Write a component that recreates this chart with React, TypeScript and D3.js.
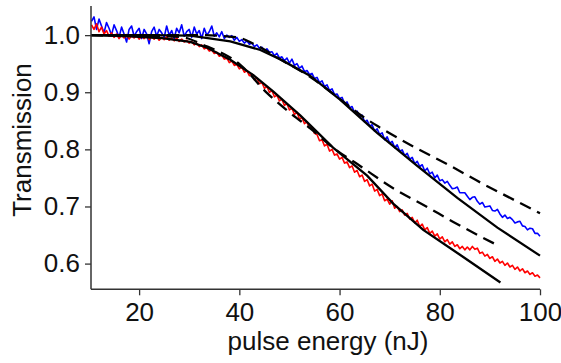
import React, { useEffect, useRef } from 'react';
import * as d3 from 'd3';

// measured traces are sampled every 0.5 nJ
const energy = d3.range(10.5, 100.01, 0.5);

const blueT = [
  1.024, 1.032, 1.010, 1.028, 1.016, 1.004, 1.022, 1.012, 1.000, 1.018,
  1.008, 0.996, 1.014, 1.002, 0.988, 1.010, 1.016, 0.998, 1.006, 1.012,
  0.994, 1.010, 1.002, 0.985, 1.006, 1.014, 0.998, 1.010, 1.004, 0.996,
  1.016, 1.000, 1.008, 0.994, 1.012, 1.004, 1.018, 0.998, 1.006, 1.010,
  0.996, 1.014, 1.002, 1.008, 0.994, 1.012, 1.000, 1.006, 1.016, 0.998,
  1.004, 0.997, 1.006, 0.994, 1.000, 0.996, 0.999, 0.991, 0.996, 0.989,
  0.992, 0.986, 0.990, 0.984, 0.986, 0.980, 0.983, 0.977, 0.979, 0.973,
  0.976, 0.970, 0.971, 0.964, 0.968, 0.960, 0.962, 0.955, 0.960, 0.951,
  0.958, 0.947, 0.950, 0.942, 0.946, 0.936, 0.938, 0.931, 0.933, 0.924,
  0.926, 0.917, 0.920, 0.910, 0.913, 0.903, 0.906, 0.896, 0.897, 0.889,
  0.891, 0.880, 0.883, 0.873, 0.875, 0.864, 0.867, 0.857, 0.860, 0.848,
  0.851, 0.841, 0.843, 0.832, 0.836, 0.826, 0.829, 0.817, 0.822, 0.811,
  0.814, 0.803, 0.808, 0.797, 0.799, 0.789, 0.793, 0.783, 0.786, 0.775,
  0.779, 0.770, 0.773, 0.762, 0.767, 0.757, 0.760, 0.750, 0.755, 0.745,
  0.747, 0.741, 0.744, 0.737, 0.731, 0.732, 0.734, 0.724, 0.724, 0.724,
  0.718, 0.712, 0.716, 0.717, 0.709, 0.704, 0.707, 0.699, 0.700, 0.701,
  0.693, 0.692, 0.695, 0.687, 0.681, 0.685, 0.679, 0.681, 0.677, 0.671,
  0.673, 0.674, 0.666, 0.665, 0.659, 0.662, 0.661, 0.653, 0.653, 0.648,
];

const redT = [
  1.018, 1.010, 1.020, 1.006, 1.014, 1.002, 1.008, 0.998, 1.004, 0.996,
  1.002, 0.994, 1.000, 0.995, 1.001, 0.993, 0.999, 0.995, 1.000, 0.993,
  0.998, 0.994, 1.000, 0.992, 0.997, 0.993, 0.998, 0.991, 0.996, 0.992,
  0.997, 0.991, 0.995, 0.990, 0.995, 0.989, 0.993, 0.988, 0.991, 0.986,
  0.989, 0.983, 0.986, 0.980, 0.983, 0.976, 0.978, 0.972, 0.974, 0.968,
  0.970, 0.963, 0.965, 0.958, 0.960, 0.952, 0.955, 0.947, 0.949, 0.941,
  0.944, 0.935, 0.938, 0.929, 0.932, 0.922, 0.925, 0.915, 0.917, 0.907,
  0.910, 0.900, 0.903, 0.892, 0.895, 0.885, 0.888, 0.877, 0.880, 0.869,
  0.872, 0.861, 0.865, 0.853, 0.856, 0.845, 0.848, 0.837, 0.839, 0.828,
  0.826, 0.815, 0.817, 0.806, 0.809, 0.797, 0.800, 0.790, 0.792, 0.783,
  0.786, 0.776, 0.778, 0.768, 0.771, 0.760, 0.763, 0.752, 0.755, 0.744,
  0.747, 0.736, 0.739, 0.727, 0.730, 0.719, 0.722, 0.710, 0.713, 0.704,
  0.710, 0.697, 0.700, 0.691, 0.694, 0.685, 0.688, 0.678, 0.681, 0.671,
  0.676, 0.665, 0.669, 0.659, 0.663, 0.653, 0.657, 0.648, 0.652, 0.643,
  0.647, 0.638, 0.642, 0.634, 0.638, 0.630, 0.633, 0.626, 0.630, 0.624,
  0.629, 0.624, 0.630, 0.625, 0.627, 0.618, 0.620, 0.613, 0.616, 0.609,
  0.612, 0.604, 0.608, 0.601, 0.604, 0.597, 0.601, 0.594, 0.597, 0.590,
  0.594, 0.587, 0.591, 0.584, 0.587, 0.581, 0.584, 0.578, 0.580, 0.575,
];

// model curves [energy, transmission]
const fitBlueSolid = [
  [10.4, 1.0], [22.2, 1.0], [30.2, 0.999], [38.2, 0.989], [44.2, 0.974],
  [48.1, 0.958], [54.1, 0.929], [60.1, 0.887], [67.5, 0.829], [75.5, 0.771],
  [83.5, 0.715], [91.5, 0.663], [100, 0.614],
];
const fitBlueDashed = [
  [10.4, 1.0], [32.2, 1.0], [39.6, 0.996], [42.8, 0.985], [48.1, 0.958],
  [54.1, 0.927], [60.1, 0.888], [64.7, 0.857], [68.1, 0.838], [74.7, 0.805],
  [81.5, 0.774], [88.1, 0.742], [94.7, 0.712], [100, 0.688],
];
const fitRedSolid = [
  [10.4, 1.0], [18.2, 0.998], [24.2, 0.995], [30.2, 0.988], [33.6, 0.978],
  [38.2, 0.957], [42.8, 0.930], [46.8, 0.901], [52.2, 0.859], [58.7, 0.803],
  [65.5, 0.754], [70.7, 0.705], [76.7, 0.659], [84.1, 0.615], [92.1, 0.567],
];
const fitRedDashed = [
  [10.4, 1.0], [28.2, 0.997], [32.8, 0.983], [40.2, 0.948], [45.5, 0.899],
  [50.1, 0.864], [54.7, 0.833], [58.7, 0.803], [64.1, 0.771], [70.7, 0.732],
  [77.5, 0.699], [82.7, 0.673], [91.1, 0.634],
];

const xTicks = [20, 40, 60, 80, 100];
const yTicks = [0.6, 0.7, 0.8, 0.9, 1.0];

export default function App() {
  const ref = useRef<SVGSVGElement>(null);

  useEffect(() => {
    const W = 561, H = 363;
    const left = 91, right = 540, top = 6, bottom = 289.3;
    const svg = d3.select(ref.current);
    svg.selectAll('*').remove();

    const x = d3.scaleLinear().domain([10.4, 100]).range([left, right]);
    const y = d3.scaleLinear().domain([0.555, 1.051]).range([bottom, top]);
    const font = "'Liberation Sans', Arial, Helvetica, sans-serif";

    const line = d3.line<number[]>().x(d => x(d[0])).y(d => y(d[1]));
    const smooth = d3.line<number[]>().x(d => x(d[0])).y(d => y(d[1])).curve(d3.curveMonotoneX);

    // measured traces
    svg.append('path')
      .attr('d', line(energy.map((e, i) => [e, blueT[i]])))
      .attr('fill', 'none').attr('stroke', '#0000ff').attr('stroke-width', 1.6)
      .attr('stroke-linejoin', 'round');
    svg.append('path')
      .attr('d', line(energy.map((e, i) => [e, redT[i]])))
      .attr('fill', 'none').attr('stroke', '#ff0000').attr('stroke-width', 1.6)
      .attr('stroke-linejoin', 'round');

    // fits
    [fitBlueDashed, fitRedDashed].forEach(f => {
      svg.append('path').attr('d', smooth(f))
        .attr('fill', 'none').attr('stroke', '#000').attr('stroke-width', 2.3)
        .attr('stroke-dasharray', '12,7');
    });
    [fitBlueSolid, fitRedSolid].forEach(f => {
      svg.append('path').attr('d', line(f))
        .attr('fill', 'none').attr('stroke', '#000').attr('stroke-width', 2.3);
    });

    // axes
    const gx = svg.append('g').attr('transform', `translate(0,${bottom})`)
      .call(d3.axisBottom(x).tickValues(xTicks).tickSize(6).tickSizeOuter(0).tickPadding(7));
    const gy = svg.append('g').attr('transform', `translate(${left},0)`)
      .call(d3.axisLeft(y).tickValues(yTicks).tickSize(6).tickSizeOuter(0).tickPadding(5)
        .tickFormat(d3.format('.1f')));
    [gx, gy].forEach(g => {
      g.select('.domain').attr('stroke', '#333').attr('stroke-width', 1.5);
      g.selectAll('.tick line').attr('stroke', '#333').attr('stroke-width', 1.3);
      g.selectAll('.tick text').attr('font-family', font).attr('font-size', 26).attr('fill', '#111');
    });
    gx.select('.domain').attr('d', `M${left},0H${right}`);
    gy.select('.domain').attr('d', `M0,${top}V${bottom}`);

    svg.append('text')
      .attr('x', 328).attr('y', 350)
      .attr('text-anchor', 'middle')
      .attr('font-family', font).attr('font-size', 26).attr('fill', '#111')
      .text('pulse energy (nJ)');
    svg.append('text')
      .attr('transform', 'translate(31,140) rotate(-90)')
      .attr('text-anchor', 'middle')
      .attr('font-family', font).attr('font-size', 26).attr('fill', '#111')
      .text('Transmission');

    svg.attr('width', W).attr('height', H);
  }, []);

  return (
    <svg ref={ref} width={561} height={363}
      style={{ position: 'absolute', left: 0, top: 0, background: '#fff' }} />
  );
}
